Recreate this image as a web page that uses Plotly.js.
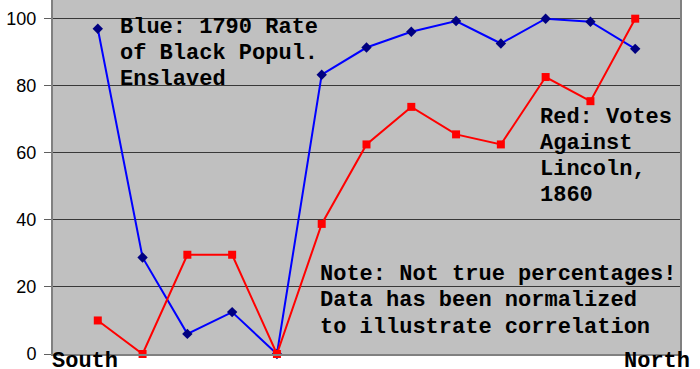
<!DOCTYPE html>
<html>
<head>
<meta charset="utf-8">
<script src="https://cdn.plot.ly/plotly-3.0.1.min.js"></script>
<style>html,body{margin:0;padding:0;background:#fff;}#chart{width:700px;height:369px;}</style>
</head>
<body>
<div id="chart"></div>
<script>
const positions = [1,2,3,4,5,6,7,8,9,10,11,12,13];
const blueEnslaved = [97.0, 28.8, 6.0, 12.5, 0, 83.3, 91.4, 96.1, 99.3, 92.6, 100, 99.1, 91.0];
const redVotesAgainstLincoln = [10.0, 0, 29.6, 29.6, 0, 38.8, 62.5, 73.7, 65.5, 62.5, 82.6, 75.4, 100];
const yTicks = [0, 20, 40, 60, 80, 100];
const blueNote = ["Blue: 1790 Rate", "of Black Popul.", "Enslaved"];
const redNote = ["Red: Votes", "Against", "Lincoln,", "1860"];
const normNote = ["Note: Not true percentages!", "Data has been normalized", "to illustrate correlation"];
const endLabels = ["South", "North"];

const W = 700, H = 369, L = 53, R = 680, T = 0, B = 354.3;
function px(x){ return (x - L) / (R - L); }
function py(y){ return (B - y) / (B - T); }

const monoFont = {family: "Liberation Mono, Courier New, monospace", size: 22, color: "#000"};
const annotations = [];
function addLines(lines, left, firstBaseline, step){
  lines.forEach((t, i) => {
    annotations.push({
      text: "<b>" + t + "</b>", xref: "paper", yref: "paper",
      x: px(left), y: py(firstBaseline + i*step - 4),
      xanchor: "left", yanchor: "middle", showarrow: false,
      font: monoFont, borderpad: 0
    });
  });
}
addLines(blueNote, 119, 32, 26);
addLines(redNote, 539, 122, 26);
addLines(normNote, 319, 278.3, 26.7);
annotations.push({text: "<b>" + endLabels[0] + "</b>", xref: "paper", yref: "paper",
  x: px(51), y: py(366.5 - 5), xanchor: "left", yanchor: "middle", showarrow: false, font: monoFont, borderpad: 0});
annotations.push({text: "<b>" + endLabels[1] + "</b>", xref: "paper", yref: "paper",
  x: px(691), y: py(366.5 - 5), xanchor: "right", yanchor: "middle", showarrow: false, font: monoFont, borderpad: 0});

const traces = [
  {x: positions, y: blueEnslaved, type: "scatter", mode: "lines+markers",
   line: {color: "#0000ff", width: 2}, marker: {symbol: "diamond", size: 8, color: "#000080"},
   cliponaxis: false, hoverinfo: "skip"},
  {x: positions, y: redVotesAgainstLincoln, type: "scatter", mode: "lines+markers",
   line: {color: "#ff0000", width: 2}, marker: {symbol: "square", size: 8, color: "#ff0000"},
   cliponaxis: false, hoverinfo: "skip"}
];

const layout = {
  width: W, height: H,
  margin: {l: L, r: W - R, t: T, b: H - B, pad: 0},
  paper_bgcolor: "#ffffff", plot_bgcolor: "#c0c0c0",
  showlegend: false,
  xaxis: {range: [0, 14], showgrid: false, zeroline: false, showticklabels: false, ticks: "",
    showline: true, linecolor: "#808080", linewidth: 2, fixedrange: true},
  yaxis: {range: [0, 100 + 18.7 / 3.356], tickvals: yTicks, ticktext: yTicks.map(String),
    showgrid: true, gridcolor: "#383838", gridwidth: 1, zeroline: false,
    showline: true, linecolor: "#808080", linewidth: 2, mirror: true,
    ticks: "outside", ticklen: 7, tickcolor: "#606060", tickwidth: 1, ticklabelstandoff: 4,
    tickfont: {family: "Liberation Sans, Arial, sans-serif", size: 18, color: "#000"},
    fixedrange: true},
  annotations: annotations
};
Plotly.newPlot("chart", traces, layout, {displayModeBar: false, staticPlot: true});
</script>
</body>
</html>
